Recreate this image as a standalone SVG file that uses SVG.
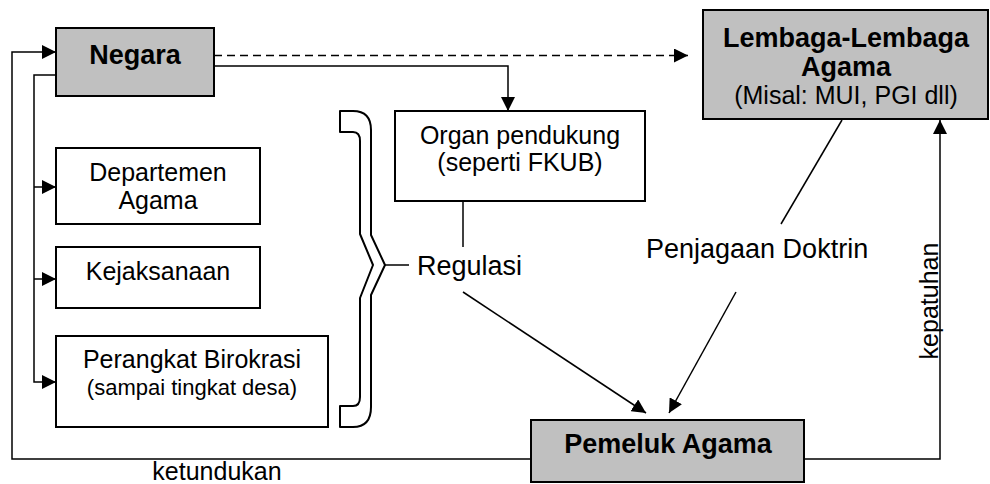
<svg xmlns="http://www.w3.org/2000/svg" width="990" height="484" viewBox="0 0 990 484">
<style>
.box{fill:#ffffff;stroke:#000;stroke-width:2}
.gbox{fill:#c0c0c0;stroke:#000;stroke-width:2}
.ln{fill:none;stroke:#000;stroke-width:1.5}
.t{font-family:"Liberation Sans",Arial,sans-serif;font-size:25px;fill:#000;text-anchor:middle}
.b{font-family:"Liberation Sans",Arial,sans-serif;font-size:27px;font-weight:bold;fill:#000;text-anchor:middle}
.lab{font-family:"Liberation Sans",Arial,sans-serif;font-size:27px;fill:#000}
</style>
<defs>
<marker id="ah" markerUnits="userSpaceOnUse" markerWidth="14" markerHeight="14" refX="14" refY="7" orient="auto" viewBox="0 0 14 14">
<path d="M0,0 L14,7 L0,14 Z" fill="#000"/>
</marker>
</defs>
<rect width="990" height="484" fill="#fff"/>
<g id="connectors">
<path class="ln" d="M214,55.5 L688,55.5" stroke-dasharray="8,5" marker-end="url(#ah)"/>
<path class="ln" d="M214,66 L508,66 L508,111" marker-end="url(#ah)"/>
<path class="ln" d="M56,75 L34,75 L34,382 L56,382" marker-end="url(#ah)"/>
<path class="ln" d="M34,187 L56,187" marker-end="url(#ah)"/>
<path class="ln" d="M34,279 L56,279" marker-end="url(#ah)"/>
<path class="ln" d="M531,459 L12,459 L12,52 L56,52" marker-end="url(#ah)"/>
<path class="ln" d="M804,459 L940,459 L940,120" marker-end="url(#ah)"/>
<path class="ln" d="M463,201 L463,247"/>
<path class="ln" d="M385,265 L409,265"/>
<path class="ln" d="M463,292 L646,413" marker-end="url(#ah)"/>
<path class="ln" d="M842,120 L781,224"/>
<path class="ln" d="M736,292 L669,413" marker-end="url(#ah)"/>
</g>
<g id="brace">
<path d="M340,111 L353,111 Q371,111 371,130 L371,235 L385,265 L371,295 L371,407 Q371,427 353,427 L340,427 L340,406 L353,406 Q360,406 360,397 L360,298 L373,265 L360,234 L360,141 Q360,132 353,132 L340,132 Z" fill="#fff" stroke="#000" stroke-width="2" stroke-linejoin="round"/>
</g>
<g id="negara">
<rect class="gbox" x="56" y="28" width="158" height="68"/>
<text class="b" x="135" y="64">Negara</text>
</g>
<g id="lembaga">
<rect class="gbox" x="703" y="10" width="285" height="109"/>
<text class="b" x="846" y="47">Lembaga-Lembaga</text>
<text class="b" x="846" y="76">Agama</text>
<text class="t" x="846" y="104">(Misal: MUI, PGI dll)</text>
</g>
<g id="organ">
<rect class="box" x="395" y="111" width="250" height="90"/>
<text class="t" x="520" y="144">Organ pendukung</text>
<text class="t" x="520" y="171">(seperti FKUB)</text>
</g>
<g id="departemen">
<rect class="box" x="56" y="148" width="204" height="76"/>
<text class="t" x="158" y="181">Departemen</text>
<text class="t" x="158" y="209">Agama</text>
</g>
<g id="kejaksanaan">
<rect class="box" x="56" y="247" width="204" height="61"/>
<text class="t" x="158" y="280">Kejaksanaan</text>
</g>
<g id="perangkat">
<rect class="box" x="56" y="336" width="272" height="91"/>
<text class="t" x="192" y="368">Perangkat Birokrasi</text>
<text class="t" x="192" y="395" style="font-size:22px">(sampai tingkat desa)</text>
</g>
<g id="pemeluk">
<rect class="gbox" x="531" y="420" width="273" height="62"/>
<text class="b" x="668" y="453">Pemeluk Agama</text>
</g>
<g id="labels">
<text class="lab" x="417" y="275">Regulasi</text>
<text class="lab" x="646" y="258">Penjagaan Doktrin</text>
<text class="t" x="217" y="480">ketundukan</text>
<text class="t" transform="translate(938,301) rotate(-90)" x="0" y="0">kepatuhan</text>
</g>
</svg>
